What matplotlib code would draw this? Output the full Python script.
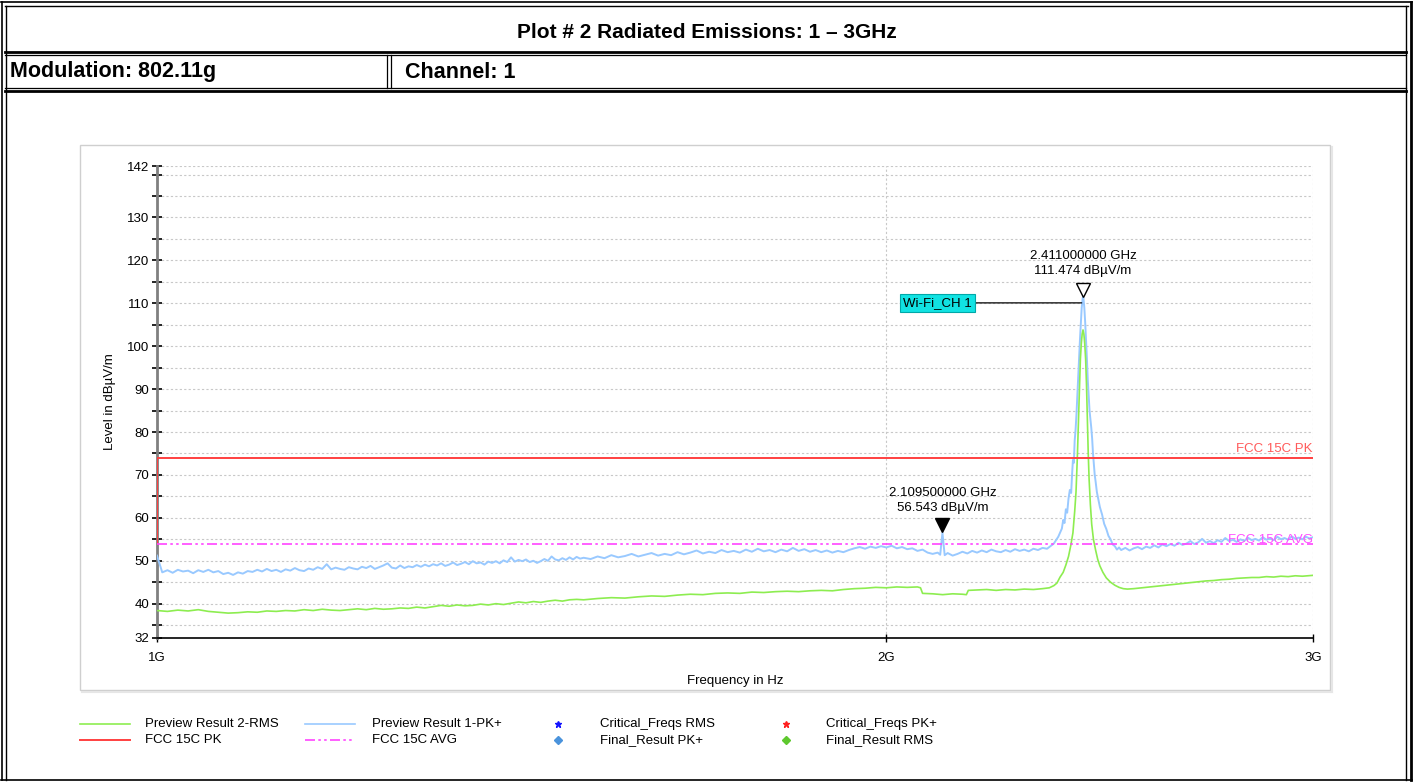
import matplotlib
matplotlib.use("Agg")
from matplotlib import pyplot as plt
from matplotlib.lines import Line2D
from matplotlib.patches import Rectangle
from matplotlib.ticker import NullLocator
import numpy as np

plt.rcParams['font.family'] = ['Liberation Sans', 'DejaVu Sans']

# ---- data (frequency in MHz, level in dBuV/m) ----
pk_freq = [1000, 1005, 1010, 1015, 1020, 1025, 1030, 1035, 1040, 1045, 1050, 1055, 1060, 1065, 1070, 1075,
           1080, 1085, 1090, 1095, 1100, 1105, 1110, 1115, 1120, 1125, 1130, 1135, 1140, 1145, 1150, 1155,
           1160, 1165, 1170, 1175, 1180, 1185, 1190, 1195, 1200, 1205, 1210, 1215, 1220, 1225, 1230, 1235,
           1240, 1245, 1250, 1255, 1260, 1265, 1270, 1275, 1280, 1285, 1290, 1295, 1300, 1305, 1310, 1315,
           1320, 1325, 1330, 1335, 1340, 1345, 1350, 1355, 1360, 1365, 1370, 1375, 1380, 1385, 1390, 1395,
           1400, 1405, 1410, 1415, 1420, 1425, 1430, 1435, 1440, 1445, 1450, 1455, 1460, 1465, 1470, 1475,
           1480, 1485, 1490, 1495, 1500,
           1510, 1520, 1530, 1540, 1550, 1560, 1570, 1580, 1590, 1600, 1610, 1620, 1630, 1640, 1650, 1660,
           1670, 1680, 1690, 1700, 1710, 1720, 1730, 1740, 1750, 1760, 1770, 1780, 1790, 1800, 1810, 1820,
           1830, 1840, 1850, 1860, 1870, 1880, 1890, 1900, 1910, 1920, 1930, 1940, 1950, 1960, 1970, 1980,
           1990, 2000,
           2010, 2020, 2030, 2040, 2050, 2060, 2070, 2080, 2090, 2100, 2105, 2109.5, 2114, 2120, 2130, 2140,
           2150, 2160, 2170, 2180, 2190, 2200, 2210, 2220, 2230, 2240, 2250, 2260, 2270, 2280, 2290, 2300,
           2310, 2320, 2330, 2340,
           2345, 2350, 2355, 2360, 2363, 2366, 2369, 2372, 2375, 2378, 2381, 2384, 2386, 2388, 2390, 2392,
           2394, 2396, 2398, 2400, 2402, 2404, 2406, 2408, 2410, 2411, 2412, 2414, 2416, 2418, 2420, 2422,
           2424, 2426, 2428, 2430, 2432, 2434, 2436, 2438, 2440, 2443, 2446, 2450, 2455, 2460, 2465, 2470,
           2475, 2480, 2485, 2490, 2495, 2500, 2510, 2520,
           2530, 2540, 2550, 2560, 2570, 2580, 2590, 2600, 2610, 2620, 2630, 2640, 2650, 2660, 2670, 2680,
           2690, 2700, 2710, 2720, 2730, 2740, 2750, 2760, 2770, 2780, 2790, 2800, 2810, 2820, 2830, 2840,
           2850, 2860, 2870, 2880, 2890, 2900, 2910, 2920, 2930, 2940, 2950, 2960, 2970, 2980, 2990, 3000]
pk_level = [51.2, 47.3, 47.8, 47.2, 47.9, 47.5, 47.7, 47.1, 47.8, 47.4, 47.9, 47.3, 47.6, 46.9, 47.2, 46.7,
            47.3, 47.0, 47.6, 47.4, 47.9, 47.5, 48.1, 47.6, 47.9, 47.4, 48.0, 47.7, 48.3, 47.8, 47.6, 48.2,
            47.9, 48.5, 48.1, 49.2, 48.0, 48.4, 48.1, 47.9, 48.5, 48.2, 48.0, 48.6, 48.3, 48.8, 48.1, 48.5,
            48.9, 49.4, 48.4, 48.2, 48.9, 48.3, 48.7, 48.5, 49.0, 48.6, 49.1, 48.7, 49.2, 48.9, 49.4, 48.8,
            49.1, 49.6, 49.0, 49.3, 49.7, 49.2, 49.9, 49.4, 49.6, 49.1, 49.8, 49.5, 49.9, 49.4, 50.1, 49.7,
            50.8, 49.8, 50.2, 49.9, 50.3, 49.7, 50.0, 49.5, 49.9, 50.4, 50.0, 51.0, 50.3, 50.1, 50.6, 50.2,
            50.8, 50.3, 50.9, 50.5, 50.7,
            50.4, 51.0, 50.6, 51.3, 50.8, 51.1, 51.6, 51.0, 51.4, 51.8, 51.2, 51.6, 51.3, 52.0, 51.5, 51.9,
            52.4, 51.7, 52.1, 51.8, 52.5, 52.0, 52.3, 51.9, 52.6, 52.1, 52.8, 52.2, 52.5, 52.0, 52.6, 52.2,
            53.0, 52.3, 52.7, 52.1, 52.5, 52.0, 52.4, 51.9, 52.3, 52.0, 52.5, 52.9, 53.2, 52.8, 53.3, 53.0,
            53.4, 53.1,
            53.5, 52.9, 53.2, 52.7, 52.9, 52.3, 52.6, 51.9, 51.6, 51.9, 51.4, 56.5, 51.3, 51.8, 51.2, 51.6,
            52.1, 51.7, 52.3, 51.9, 52.4, 52.0, 52.6, 52.2, 52.0, 52.5, 52.1, 52.7, 52.3, 52.6, 52.2, 52.8,
            52.5, 53.0, 52.8, 53.6,
            54.0, 54.8, 55.6, 56.8, 57.5, 59.5, 58.8, 62.0, 61.2, 64.5, 66.5, 65.8, 70.0, 73.5, 72.8, 78.0,
            80.5, 84.0, 88.5, 93.0, 97.5, 101.5, 105.5, 109.0, 111.0, 111.5, 111.2, 109.0, 105.5, 101.5, 97.0, 92.0,
            88.5, 85.0, 83.0, 81.0, 78.5, 75.0, 72.5, 70.0, 68.5, 66.0, 64.5, 62.5, 60.8, 58.6, 57.4, 55.8,
            55.0, 53.8, 53.4, 52.6, 53.1, 52.5, 53.0, 52.4,
            52.9, 53.2, 52.7, 53.3, 53.0, 53.6, 53.1, 53.8, 53.4, 53.9, 53.5, 54.2, 53.7, 54.0, 54.6, 53.9,
            54.3, 55.1, 54.2, 54.6, 54.1, 54.8, 54.4, 55.3, 54.6, 54.9, 54.4, 55.0, 54.6, 55.4, 54.8, 55.1,
            54.7, 55.5, 54.9, 55.2, 54.8, 55.6, 55.0, 55.3, 54.9, 55.7, 55.1, 55.4, 55.0, 55.6, 55.2, 55.5]

rms_freq = [1000, 1010, 1020, 1030, 1040, 1050, 1060, 1070, 1080, 1090, 1100, 1110, 1120, 1130, 1140, 1150,
            1160, 1170, 1180, 1190, 1200, 1210, 1220, 1230, 1240, 1250, 1260, 1270, 1280, 1290, 1300, 1310,
            1320, 1330, 1340, 1350, 1360, 1370, 1380, 1390, 1400, 1410, 1420, 1430, 1440, 1450, 1460, 1470,
            1480, 1490, 1500, 1520, 1540, 1560, 1580, 1600, 1620, 1640, 1660, 1680, 1700, 1720, 1740, 1760,
            1780, 1800, 1820, 1840, 1860, 1880, 1900, 1920, 1940, 1960, 1980, 2000, 2020, 2040, 2060, 2066,
            2070, 2090, 2110, 2130, 2150, 2158, 2162, 2180, 2200, 2220, 2240, 2260, 2280, 2300, 2320, 2335,
            2345, 2352, 2359, 2366, 2372, 2378, 2383, 2388, 2392, 2395, 2398, 2401, 2403, 2405, 2407, 2409,
            2411, 2413, 2415, 2417, 2419, 2421, 2423, 2425, 2428, 2431, 2435, 2440, 2445, 2450, 2457, 2465,
            2475, 2485, 2495, 2505, 2515, 2530, 2550, 2570, 2590, 2610, 2630, 2650, 2670, 2690, 2710, 2730,
            2750, 2770, 2790, 2810, 2830, 2850, 2870, 2890, 2910, 2930, 2950, 2970, 3000]
rms_level = [38.4, 38.2, 38.5, 38.3, 38.6, 38.2, 38.0, 37.8, 37.9, 38.1, 38.0, 38.3, 38.2, 38.4, 38.3, 38.6,
             38.4, 38.7, 38.5, 38.4, 38.6, 38.8, 38.6, 38.9, 38.7, 38.8, 39.0, 38.9, 39.2, 39.0, 39.3, 39.6,
             39.4, 39.7, 39.5, 39.6, 39.9, 39.7, 40.0, 39.8, 40.1, 40.4, 40.2, 40.5, 40.3, 40.6, 40.8, 40.6,
             40.9, 41.0, 40.9, 41.2, 41.4, 41.3, 41.6, 41.8, 41.7, 42.0, 42.2, 42.1, 42.4, 42.5, 42.4, 42.7,
             42.6, 42.8, 42.9, 42.8, 43.0, 43.1, 43.0, 43.3, 43.5, 43.6, 43.8, 43.7, 43.9, 43.8, 43.9, 43.7,
             42.4, 42.3, 42.1, 42.3, 42.2, 42.1, 43.1, 43.2, 43.3, 43.1, 43.3, 43.2, 43.4, 43.3, 43.5, 43.7,
             44.2, 44.8, 46.2, 47.3, 49.0, 51.0, 53.5, 56.5, 61.5, 66.0, 74.0, 84.0, 91.0, 97.0, 100.5, 102.8,
             103.8, 102.8, 100.5, 97.0, 91.0, 83.0, 75.0, 69.0, 63.0, 58.5, 55.0, 52.5, 50.3, 48.8, 47.3, 46.0,
             45.0, 44.3, 43.8, 43.5, 43.4, 43.5, 43.7, 43.9, 44.1, 44.3, 44.5, 44.7, 44.9, 45.1, 45.3, 45.4,
             45.6, 45.7, 45.9, 46.0, 46.1, 46.1, 46.3, 46.2, 46.4, 46.3, 46.5, 46.4, 46.6]

# limit lines
pk_limit_freq = [1000, 1000, 3000]
pk_limit_level = [54, 74, 74]
avg_limit_freq = [1000, 3000]
avg_limit_level = [54, 54]

# markers
m1_freq, m1_level = 2411.0, 111.474
m2_freq, m2_level = 2109.5, 56.543

W, H = 1413, 782
def fx(x):
    return x / W
def fy(y):
    return 1 - y / H

fig = plt.figure(figsize=(W / 100, H / 100), dpi=100)

# ---- page frame / header table ----
def hline(y, x0, x1, lw):
    fig.add_artist(Line2D([fx(x0), fx(x1)], [fy(y), fy(y)], color='black', lw=lw, transform=fig.transFigure))
def vline(x, y0, y1, lw):
    fig.add_artist(Line2D([fx(x), fx(x)], [fy(y0), fy(y1)], color='black', lw=lw, transform=fig.transFigure))

hline(2, 1, 1412, 1.2)
hline(6, 5, 1408, 1.0)
hline(780, 1, 1412, 1.2)
vline(1.5, 2, 780, 1.2)
vline(5.5, 6, 780, 1.0)
vline(1406, 6, 780, 1.0)
vline(1410.5, 2, 780, 2.0)
hline(51.5, 5, 1406, 2.0)
hline(55, 5, 1406, 0.9)
hline(87.5, 5, 1406, 0.9)
hline(91, 5, 1406, 2.0)
vline(387, 55, 87.5, 0.9)
vline(391, 55, 87.5, 0.9)

header_font = ['Liberation Sans Narrow', 'Liberation Sans', 'DejaVu Sans']
fig.text(fx(707), fy(32), 'Plot # 2 Radiated Emissions: 1 \u2013 3GHz', ha='center', va='center',
         fontsize=15, fontweight='bold', family=header_font)
fig.text(fx(10), fy(72), 'Modulation: 802.11g', ha='left', va='center',
         fontsize=15.5, fontweight='bold', family=header_font)
fig.text(fx(405), fy(72), 'Channel: 1', ha='left', va='center',
         fontsize=15.5, fontweight='bold', family=header_font)

# chart panel
fig.add_artist(Rectangle((fx(80), fy(690)), (1330 - 80) / W, (690 - 145) / H, fill=False,
                         ec='#cfcfcf', lw=1.0, transform=fig.transFigure))
fig.add_artist(Line2D([fx(82), fx(1332)], [fy(692), fy(692)], color='#e6e6e6', lw=1.5, transform=fig.transFigure))
fig.add_artist(Line2D([fx(1332), fx(1332)], [fy(147), fy(692)], color='#e6e6e6', lw=1.5, transform=fig.transFigure))

# ---- axes ----
ax = fig.add_axes([fx(157), fy(638), (1313 - 157) / W, (638 - 166) / H])
hz = 1e6
ax.plot(np.array(pk_freq) * hz, pk_level, color='#99c9ff', lw=1.4, zorder=3)
ax.plot(np.array(rms_freq) * hz, rms_level, color='#8ded50', lw=1.2, zorder=4)
ax.plot(np.array(pk_limit_freq) * hz, pk_limit_level, color='#ff4040', lw=1.4, zorder=5)
ax.plot(np.array(avg_limit_freq) * hz, avg_limit_level, color='#ff44ff', lw=1.2,
        linestyle=(0, (6, 2, 1.5, 2, 1.5, 2)), zorder=5)

ax.set_xscale('log')
ax.set_xlim(1e9, 3e9)
ax.set_ylim(32, 142)
ax.set_xticks([1e9, 2e9, 3e9])
ax.set_xticklabels(['1G', '2G', '3G'])
ax.xaxis.set_minor_locator(NullLocator())
ax.set_yticks([32, 40, 50, 60, 70, 80, 90, 100, 110, 120, 130, 142])
ax.set_yticks([35, 45, 55, 65, 75, 85, 95, 105, 115, 125, 135, 140], minor=True)
ax.tick_params(axis='y', which='both', direction='inout', length=7, width=1.2, labelsize=9.5, pad=2, colors='black')
ax.tick_params(axis='x', which='major', direction='inout', length=6, width=1, labelsize=9.5, pad=7)
ax.grid(True, which='both', axis='y', linestyle=(0, (2, 2)), color='#c8c8c8', lw=0.8)
ax.grid(True, which='major', axis='x', linestyle=(0, (2, 2)), color='#c8c8c8', lw=0.8)
ax.spines['top'].set_visible(False)
ax.spines['right'].set_visible(False)
ax.spines['left'].set_color('#808080')
ax.spines['left'].set_linewidth(2)
ax.spines['bottom'].set_color('black')
ax.spines['bottom'].set_linewidth(1.2)
ax.set_ylabel('Level in dB\u00b5V/m', fontsize=9.5, labelpad=8)
ax.set_xlabel('Frequency in Hz', fontsize=9.5, labelpad=8)

# limit labels
ax.text(3e9, 74.6, 'FCC 15C PK', color='#ff5a5a', fontsize=9.5, ha='right', va='bottom')
ax.text(3e9, 53.4, 'FCC 15C AVG', color='#ff50ff', fontsize=9.5, ha='right', va='bottom', zorder=6)

# markers
ax.plot([m1_freq * hz], [m1_level + 1.7], marker='v', ms=10, mfc='white', mec='black', mew=1, ls='none', zorder=7)
ax.text(m1_freq * hz, 116.2, '2.411000000 GHz\n111.474 dB\u00b5V/m', ha='center', va='bottom',
        fontsize=9.5, linespacing=1.25)
ax.plot([m2_freq * hz], [m2_level + 1.8], marker='v', ms=10, mfc='black', mec='black', ls='none', zorder=7)
ax.text(m2_freq * hz, 61.0, '2.109500000 GHz\n56.543 dB\u00b5V/m', ha='center', va='bottom',
        fontsize=9.5, linespacing=1.25)
ax.annotate('Wi-Fi_CH 1', xy=(2.408e9, 110.1), xytext=(2.1e9, 110.1), ha='center', va='center', fontsize=9.5,
            bbox=dict(boxstyle='square,pad=0.25', fc='#11e3e3', ec='#00a8a8', lw=0.8),
            arrowprops=dict(arrowstyle='-', color='black', lw=0.9, shrinkA=0, shrinkB=0), zorder=8)

# ---- legend drawn below the panel ----
leg_rows = [724, 740]
def leg_line(x0, x1, y, **kw):
    fig.add_artist(Line2D([fx(x0), fx(x1)], [fy(y), fy(y)], transform=fig.transFigure, **kw))
def leg_mark(x, y, **kw):
    fig.add_artist(Line2D([fx(x)], [fy(y)], transform=fig.transFigure, ls='none', **kw))

leg_line(80, 130, leg_rows[0], color='#8ded50', lw=1.2)
leg_line(80, 130, leg_rows[1], color='#ff4040', lw=1.4)
leg_line(305, 355, leg_rows[0], color='#99c9ff', lw=1.2)
leg_line(305, 355, leg_rows[1], color='#ff44ff', lw=1.2, linestyle=(0, (6, 2, 1.5, 2, 1.5, 2)))
leg_mark(558, leg_rows[0], marker='*', ms=5, color='#1515ff')
leg_mark(558, leg_rows[1], marker='D', ms=4.5, color='#4a93dc')
leg_mark(786, leg_rows[0], marker='*', ms=5, color='#ff2020')
leg_mark(786, leg_rows[1], marker='D', ms=4.5, color='#5ec82e')

leg_texts = [(145, 0, 'Preview Result 2-RMS'), (145, 1, 'FCC 15C PK'),
             (372, 0, 'Preview Result 1-PK+'), (372, 1, 'FCC 15C AVG'),
             (600, 0, 'Critical_Freqs RMS'), (600, 1, 'Final_Result PK+'),
             (826, 0, 'Critical_Freqs PK+'), (826, 1, 'Final_Result RMS')]
for x, r, t in leg_texts:
    fig.text(fx(x), fy(leg_rows[r]), t, ha='left', va='center', fontsize=9.5)

fig.savefig('out.png', dpi=100)
